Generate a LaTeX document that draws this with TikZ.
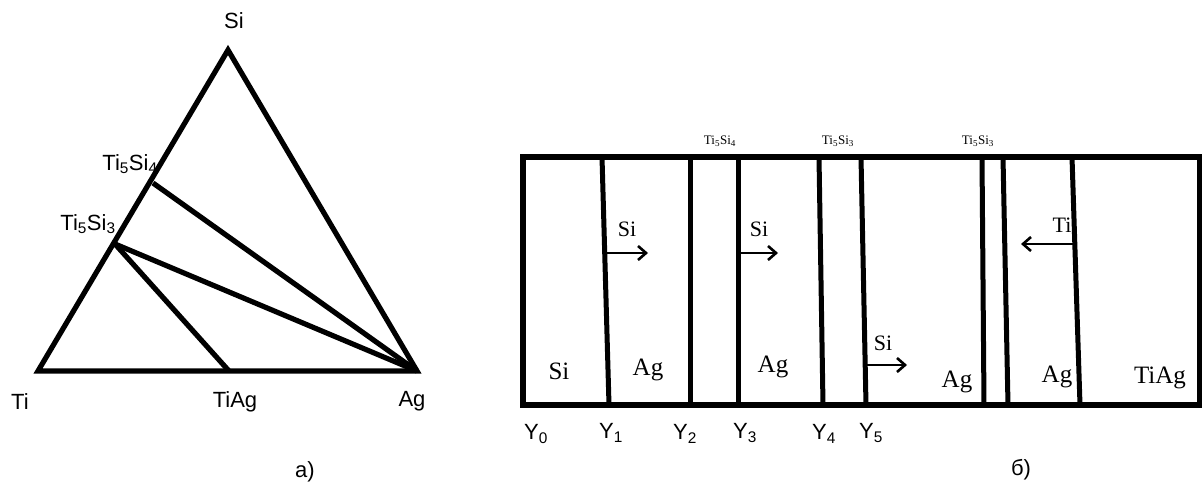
\documentclass[tikz,border=0pt]{standalone}
\usepackage{fontspec}
\setmainfont{Liberation Serif}
\newfontfamily\arialf{Liberation Sans}
\usetikzlibrary{arrows.meta}
\begin{document}
\begin{tikzpicture}[x=1pt,y=-1pt,
  tri/.style={line width=5.2pt,line join=miter},
  boxl/.style={line width=6pt},
  vl/.style={line width=5pt},
  arr/.style={line width=2.6pt,-{Straight Barb[length=8pt,width=14pt,line width=2.6pt]}},
  slab/.style={font=\arialf\fontsize{22}{24}\selectfont,inner sep=0pt},
  rlab/.style={font=\fontsize{25}{27}\selectfont,inner sep=0pt},
  alab/.style={font=\fontsize{22}{24}\selectfont,inner sep=0pt},
  tlab/.style={font=\fontsize{13}{14}\selectfont,inner sep=0pt},
  ylab/.style={font=\arialf\fontsize{22}{24}\selectfont,inner sep=0pt}]
\useasboundingbox (0,0) rectangle (1202,488);
\fill[white] (0,0) rectangle (1202,488);
% ---- triangle (a)
\coordinate (Si) at (228,50);
\coordinate (Ti) at (38,371);
\coordinate (Ag) at (417,371);
\coordinate (TiAg) at (229,371);
\coordinate (T54) at (153,183);
\coordinate (T53) at (115,244);
\draw[tri] (Si) -- (Ag) -- (Ti) -- cycle;
\draw[tri] (T54) -- (Ag);
\draw[tri] (T53) -- (Ag);
\draw[tri] (T53) -- (TiAg);
\node[slab] (lSi) at (234,21) {Si};
\node[slab] (l54) at (130,164) {Ti\textsubscript{5}Si\textsubscript{4}};
\node[slab] (l53) at (88,224) {Ti\textsubscript{5}Si\textsubscript{3}};
\node[slab] (lTi) at (20,402) {Ti};
\node[slab] (lTiAg) at (235,402) {TiAg};
\node[slab] (lAg) at (412,401) {Ag};
\node[slab] (la) at (305,472) {a)};
% ---- panel (b)
\coordinate (R1) at (523,157);
\coordinate (R2) at (1200,405);
\draw[boxl] (R1) rectangle (R2);
\foreach \n/\xt/\xb in {1/602/609, 2/690/690, 3/738/738, 4/819/823, 5/861/866, 6/982/984, 7/1003/1008, 8/1072/1080}{
  \coordinate (t\n) at (\xt,157);
  \coordinate (b\n) at (\xb,405);
  \draw[vl] (t\n) -- (b\n);
}
\node[tlab] (top1) at (720,141) {Ti\textsubscript{5}Si\textsubscript{4}};
\node[tlab] (top2) at (838,141) {Ti\textsubscript{5}Si\textsubscript{3}};
\node[tlab] (top3) at (978,141) {Ti\textsubscript{5}Si\textsubscript{3}};
% arrows
\coordinate (a1s) at (605,253); \coordinate (a1e) at (648,253);
\coordinate (a2s) at (738,253); \coordinate (a2e) at (778,253);
\coordinate (a3s) at (866,365); \coordinate (a3e) at (907,365);
\coordinate (a4s) at (1073,244); \coordinate (a4e) at (1021,244);
\draw[arr] (a1s) -- (a1e);
\draw[arr] (a2s) -- (a2e);
\draw[arr] (a3s) -- (a3e);
\draw[arr] (a4s) -- (a4e);
\node[alab] (s1) at (627,229) {Si};
\node[alab] (s2) at (759,229) {Si};
\node[alab] (s3) at (883,343) {Si};
\node[alab] (s4) at (1062,225) {Ti};
\node[rlab] (p1) at (559,371) {Si};
\node[rlab] (p2) at (648,370) {Ag};
\node[rlab] (p3) at (773,367) {Ag};
\node[rlab] (p4) at (957,382) {Ag};
\node[rlab] (p5) at (1057,377) {Ag};
\node[rlab] (p6) at (1160,378) {TiAg};
% Y labels
\node[ylab] (y0) at (536,434) {Y\textsubscript{0}};
\node[ylab] (y1) at (611,433) {Y\textsubscript{1}};
\node[ylab] (y2) at (685,434) {Y\textsubscript{2}};
\node[ylab] (y3) at (745,433) {Y\textsubscript{3}};
\node[ylab] (y4) at (824,434) {Y\textsubscript{4}};
\node[ylab] (y5) at (871,433) {Y\textsubscript{5}};
\node[slab] (lb) at (1021,470) {б)};
\end{tikzpicture}
\end{document}
